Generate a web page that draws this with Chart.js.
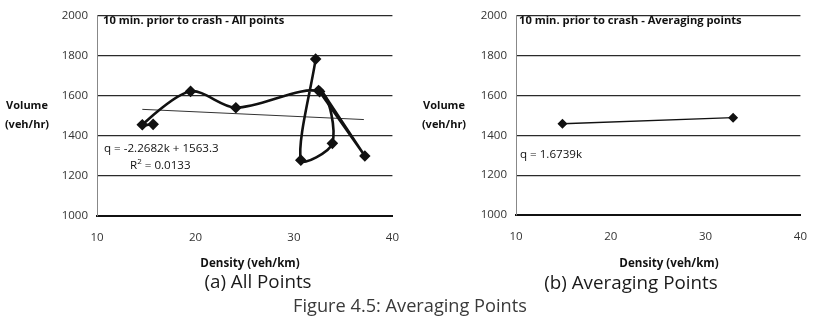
<!DOCTYPE html>
<html>
<head>
<meta charset="utf-8">
<script src="https://cdn.jsdelivr.net/npm/chart.js@4.4.1/dist/chart.umd.min.js"></script>
<style>
  body { margin: 0; background: #fff; }
  #wrap { position: relative; width: 818px; height: 320px; overflow: hidden; font-family: "Open Sans", sans-serif; color: #111; }
  canvas { position: absolute; top: 0; }
  .t { position: absolute; white-space: nowrap; line-height: 1; }
  .c { transform: translate(-50%, -50%); }
  .l { transform: translateY(-50%); }
  .b { font-weight: bold; }
  .note { font-size: 11.6px; }
  .axt { font-size: 11px; font-weight: bold; }
  .sub { font-size: 18.8px; color: #1a1a1a; }
  .fig { font-size: 18.2px; color: #3a3a3a; }
</style>
</head>
<body>
<div id="wrap">
  <canvas id="chartA" style="left:0px"></canvas>
  <canvas id="chartB" style="left:410px"></canvas>

  <div class="t l note b" style="left:103px;top:20px;font-size:11.2px">10 min. prior to crash - All points</div>
  <div class="t l note" style="left:104px;top:148px">q = -2.2682k + 1563.3</div>
  <div class="t l note" style="left:130px;top:164px">R<sup style="font-size:8px">2</sup> = 0.0133</div>
  <div class="t l note b" style="left:519px;top:20px;font-size:11.2px">10 min. prior to crash - Averaging points</div>
  <div class="t l note" style="left:520px;top:154px">q = 1.6739k</div>

  <div class="t c axt" style="left:27px;top:104px">Volume</div>
  <div class="t c axt" style="left:27px;top:123px">(veh/hr)</div>
  <div class="t c axt" style="left:444px;top:104px">Volume</div>
  <div class="t c axt" style="left:444px;top:123px">(veh/hr)</div>

  <div class="t c axt" style="left:250px;top:263px;font-size:11.6px">Density (veh/km)</div>
  <div class="t c axt" style="left:669px;top:263px;font-size:11.6px">Density (veh/km)</div>

  <div class="t c sub" style="left:258px;top:281px">(a) All Points</div>
  <div class="t c sub" style="left:631px;top:282px">(b) Averaging Points</div>
  <div class="t c fig" style="left:410px;top:305px">Figure 4.5: Averaging Points</div>
</div>

<script>
// axis ticks
const xTicks = [10, 20, 30, 40];
const yTicks = [1000, 1200, 1400, 1600, 1800, 2000];

// (a) all points, in plotted order
const allK = [15.7, 14.6, 19.5, 24.1, 32.6, 33.9, 30.7, 32.2];
const allQ = [1458, 1456, 1623, 1541, 1622, 1363, 1279, 1784];
// the doubled-back stroke down to the last point
const loopK = [32.5, 37.2, 32.9];
const loopQ = [1628, 1300, 1620];
// linear trend line ends
const trendK = [14.6, 37.1];
const trendQ = [1533, 1482];

// (b) averaging points
const avgK = [14.9, 32.9];
const avgQ = [1458, 1489];

const pts = (xs, ys) => xs.map((x, i) => ({ x: x, y: ys[i] }));

function axes(yWidth, xHeight) {
  return {
    x: {
      type: "linear",
      min: 10,
      max: 40,
      afterBuildTicks: (s) => { s.ticks = xTicks.map((v) => ({ value: v })); },
      afterFit: (s) => { s.height = xHeight; },
      grid: { display: false, drawTicks: true, tickLength: 4 },
      border: { color: "#111", width: 2 },
      ticks: { color: "#333", padding: 11, font: { family: "Open Sans", size: 11.5 }, maxRotation: 0 },
    },
    y: {
      min: 1000,
      max: 2000,
      afterBuildTicks: (s) => { s.ticks = yTicks.map((v) => ({ value: v })); },
      afterFit: (s) => { s.width = yWidth; },
      grid: { color: "#2a2a2a", lineWidth: 1.3, drawTicks: false },
      border: { color: "#888", width: 1 },
      ticks: {
        color: "#333",
        padding: 9,
        font: { family: "Open Sans", size: 11.5 },
        callback: (v) => String(v),
      },
    },
  };
}

function setup(id, w, h) {
  const c = document.getElementById(id);
  c.width = w;
  c.height = h;
  c.style.width = w + "px";
  c.style.height = h + "px";
  return c;
}

const common = {
  responsive: false,
  animation: false,
  plugins: { legend: { display: false }, tooltip: { enabled: false } },
};

// Chart (a)
new Chart(setup("chartA", 410, 260), {
  type: "scatter",
  data: {
    datasets: [
      {
        data: pts(allK, allQ),
        showLine: true,
        tension: 0.3,
        borderColor: "#111",
        borderWidth: 2.6,
        pointStyle: "rectRot",
        pointRadius: 4,
        backgroundColor: "#111",
      },
      {
        data: pts(loopK, loopQ),
        showLine: true,
        tension: 0,
        borderColor: "#111",
        borderWidth: 2.4,
        pointStyle: "rectRot",
        pointRadius: [4, 4, 0],
        backgroundColor: "#111",
      },
      {
        data: pts(trendK, trendQ),
        showLine: true,
        borderColor: "#333",
        borderWidth: 1,
        pointRadius: 0,
      },
    ],
  },
  options: {
    ...common,
    layout: { padding: { top: 13, right: 14, left: 0, bottom: 0 } },
    scales: axes(97, 44),
  },
});

// Chart (b)
new Chart(setup("chartB", 408, 260), {
  type: "scatter",
  data: {
    datasets: [
      {
        data: pts(avgK, avgQ),
        showLine: true,
        borderColor: "#111",
        borderWidth: 1.4,
        pointStyle: "rectRot",
        pointRadius: 4,
        backgroundColor: "#111",
      },
    ],
  },
  options: {
    ...common,
    layout: { padding: { top: 13, right: 6, left: 0, bottom: 0 } },
    scales: axes(106, 45),
  },
});
</script>
</body>
</html>
